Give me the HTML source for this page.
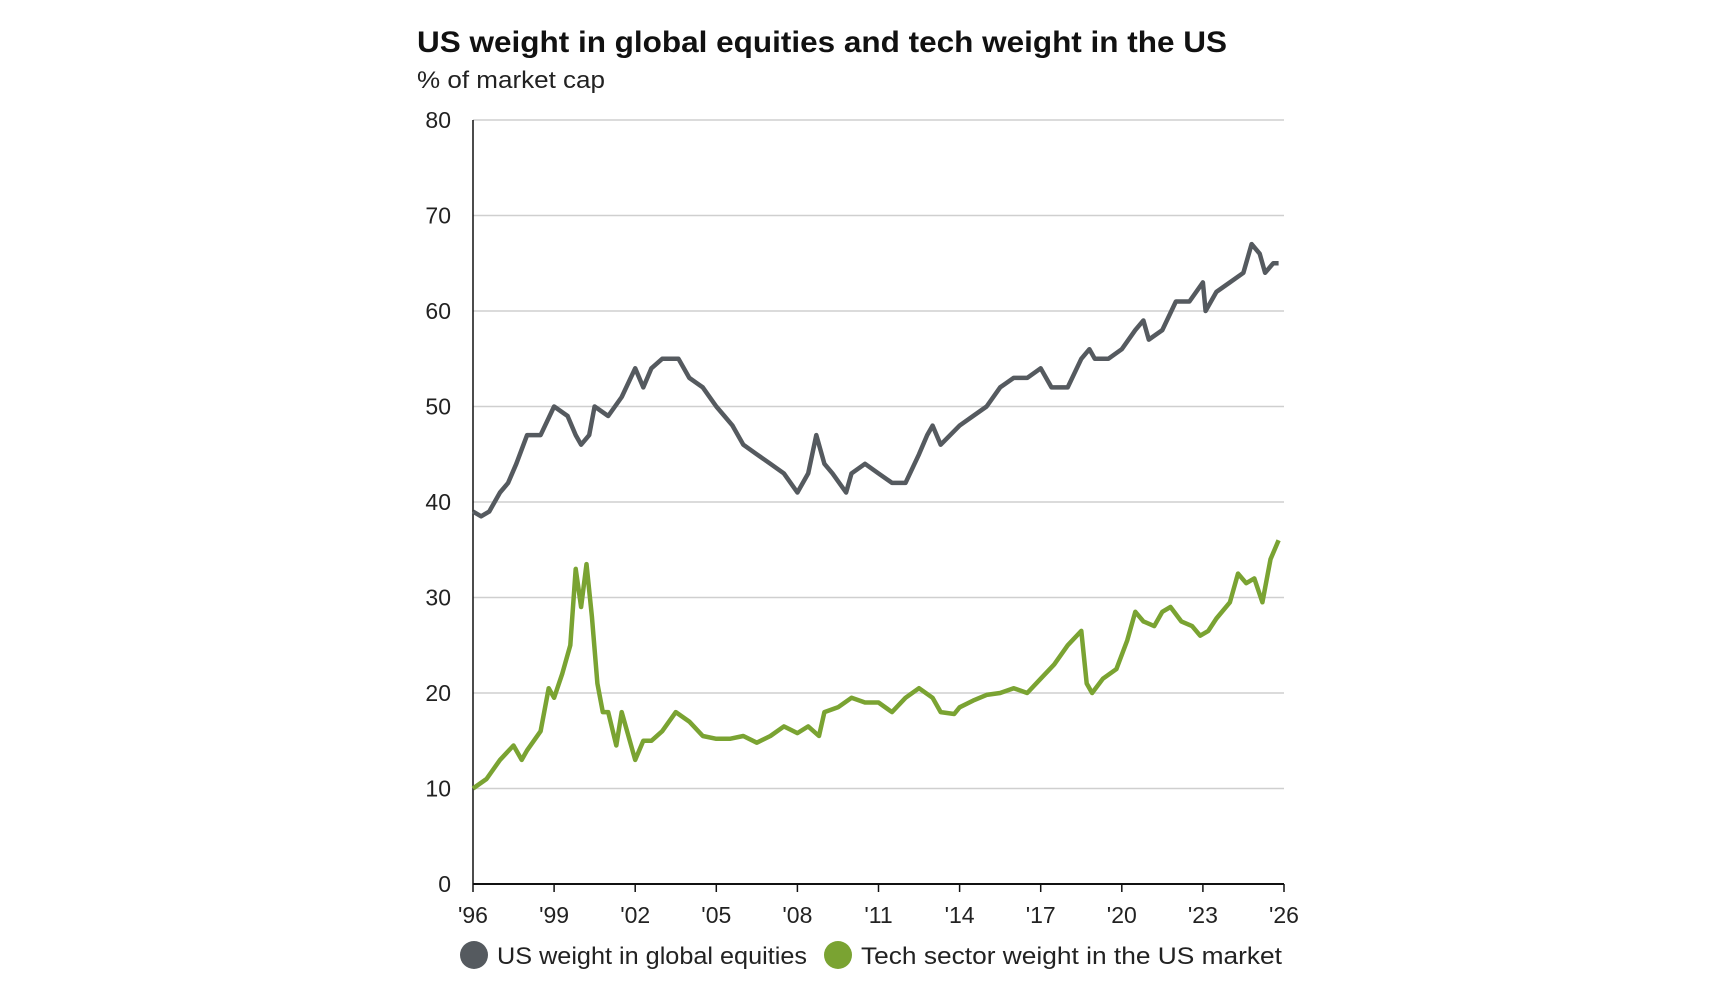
<!DOCTYPE html>
<html><head><meta charset="utf-8"><style>
html,body{margin:0;padding:0;background:#fff;}
svg{display:block;font-family:"Liberation Sans",Arial,sans-serif;}
</style></head><body>
<svg id="chart" width="1717" height="989" viewBox="0 0 1717 989" xmlns="http://www.w3.org/2000/svg">
<text x="417" y="52" font-size="30" font-weight="bold" fill="#111" textLength="810" lengthAdjust="spacingAndGlyphs">US weight in global equities and tech weight in the US</text>
<text x="417" y="88" font-size="24" fill="#222" textLength="188" lengthAdjust="spacingAndGlyphs">% of market cap</text>
<g id="grid"></g>
<g id="yticks"></g>
<g id="xticks"></g>
<g id="series"></g>
<g>
<g>
<circle cx="474" cy="955" r="14" fill="#555a5f"/>
<text x="497" y="964" font-size="24" fill="#222" textLength="310" lengthAdjust="spacingAndGlyphs">US weight in global equities</text></g>
<g>
<circle cx="838" cy="955" r="14" fill="#7aa332"/>
<text x="861" y="964" font-size="24" fill="#222" textLength="421" lengthAdjust="spacingAndGlyphs">Tech sector weight in the US market</text></g>
</g>
</svg>
<script>
const yTicks=[0,10,20,30,40,50,60,70,80];
const xTickYears=[1996,1999,2002,2005,2008,2011,2014,2017,2020,2023,2026];
const xTickLabels=["'96","'99","'02","'05","'08","'11","'14","'17","'20","'23","'26"];
const usDates=[1996,1996.3,1996.6,1997,1997.3,1997.6,1998,1998.5,1999,1999.5,1999.8,2000,2000.3,2000.5,2001,2001.5,2002,2002.3,2002.6,2003,2003.6,2004,2004.5,2005,2005.3,2005.6,2006,2006.5,2007,2007.5,2008,2008.4,2008.7,2009,2009.3,2009.8,2010,2010.5,2011,2011.5,2012,2012.5,2012.8,2013,2013.3,2014,2014.5,2015,2015.5,2016,2016.5,2017,2017.4,2018,2018.5,2018.8,2019,2019.5,2020,2020.5,2020.8,2021,2021.5,2022,2022.5,2023,2023.1,2023.5,2024,2024.5,2024.8,2025.1,2025.3,2025.6,2025.8];
const usValues=[39,38.5,39,41,42,44,47,47,50,49,47,46,47,50,49,51,54,52,54,55,55,53,52,50,49,48,46,45,44,43,41,43,47,44,43,41,43,44,43,42,42,45,47,48,46,48,49,50,52,53,53,54,52,52,55,56,55,55,56,58,59,57,58,61,61,63,60,62,63,64,67,66,64,65,65];
const techDates=[1996,1996.5,1997,1997.5,1997.8,1998,1998.5,1998.8,1999,1999.3,1999.6,1999.8,2000,2000.2,2000.4,2000.6,2000.8,2001,2001.3,2001.5,2001.8,2002,2002.3,2002.6,2003,2003.5,2004,2004.5,2005,2005.5,2006,2006.5,2007,2007.5,2008,2008.4,2008.8,2009,2009.5,2010,2010.5,2011,2011.5,2012,2012.5,2013,2013.3,2013.8,2014,2014.5,2015,2015.5,2016,2016.5,2017,2017.5,2018,2018.5,2018.7,2018.9,2019.3,2019.8,2020.2,2020.5,2020.8,2021.2,2021.5,2021.8,2022.2,2022.6,2022.9,2023.2,2023.5,2024,2024.3,2024.6,2024.9,2025.2,2025.5,2025.8];
const techValues=[10,11,13,14.5,13,14,16,20.5,19.5,22,25,33,29,33.5,28,21,18,18,14.5,18,15,13,15,15,16,18,17,15.5,15.2,15.2,15.5,14.8,15.5,16.5,15.8,16.5,15.5,18,18.5,19.5,19,19,18,19.5,20.5,19.5,18,17.8,18.5,19.2,19.8,20,20.5,20,21.5,23,25,26.5,21,20,21.5,22.5,25.5,28.5,27.5,27,28.5,29,27.5,27,26,26.5,27.8,29.5,32.5,31.5,32,29.5,34,36];
const NS="http://www.w3.org/2000/svg";
const L=473,R=1284,T=120,B=884;
const xs=d=>L+(d-1996)/30*(R-L);
const ys=v=>B-v/80*(B-T);
function mk(tag,attrs,parent){const e=document.createElementNS(NS,tag);for(const k in attrs)e.setAttribute(k,attrs[k]);parent.appendChild(e);return e;}
const grid=document.getElementById('grid'),yt=document.getElementById('yticks'),xt=document.getElementById('xticks'),ser=document.getElementById('series');
yTicks.forEach(v=>{
  if(v>0){const g=mk('line',{x1:L,x2:R,y1:ys(v),y2:ys(v),stroke:'#cfcfcf','stroke-width':1.5},grid);
  
  }
  const t=mk('text',{x:451,y:ys(v)+8,'text-anchor':'end','font-size':23,fill:'#222'},yt);t.textContent=v;
  
  
});
const ya=mk('line',{x1:L,x2:L,y1:T,y2:B,stroke:'#111','stroke-width':1.5},xt);


const xa=mk('line',{x1:L,x2:R,y1:B,y2:B,stroke:'#111','stroke-width':2},xt);


xTickYears.forEach((y,i)=>{
  mk('line',{x1:xs(y),x2:xs(y),y1:B,y2:B+8,stroke:'#111','stroke-width':1.5},xt);
  const t=mk('text',{x:xs(y),y:923,'text-anchor':'middle','font-size':23,fill:'#222'},xt);t.textContent=xTickLabels[i];
  
  
});
function line(d,v,c,name){
  const pts=d.map((x,i)=>xs(x).toFixed(1)+','+ys(v[i]).toFixed(1)).join(' ');
  const p=mk('polyline',{points:pts,fill:'none',stroke:c,'stroke-width':4.5,'stroke-linejoin':'round'},ser);
  
  
}
line(usDates,usValues,'#555a5f','us-weight-line');
line(techDates,techValues,'#7aa332','tech-weight-line');
</script>
</body></html>
